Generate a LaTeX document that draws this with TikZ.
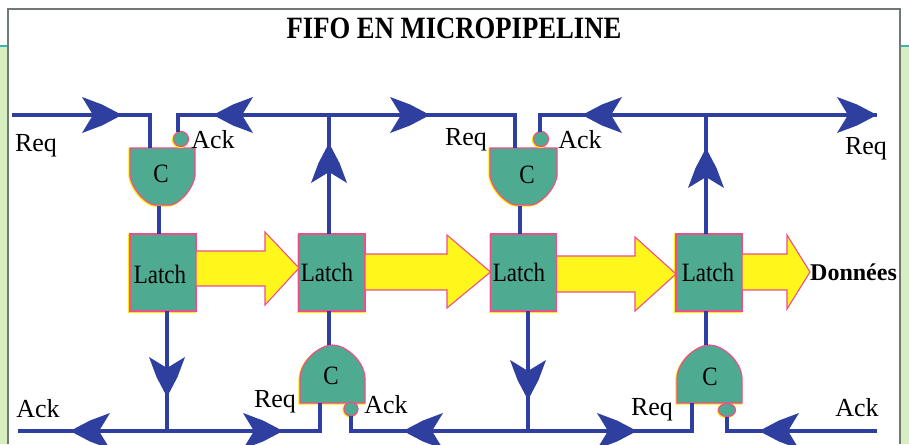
\documentclass[tikz,border=0pt]{standalone}
\usepackage{fontspec}
\usepackage{graphicx}
\usetikzlibrary{shapes.geometric}
\setmainfont{Liberation Serif}
\definecolor{wireblue}{HTML}{2F3FA0}
\definecolor{teal2}{HTML}{4FAA92}
\definecolor{pinkedge}{HTML}{EE4F8C}
\definecolor{yellowedge}{HTML}{F6F000}
\definecolor{busyellow}{HTML}{FFF71C}
\definecolor{pagegreen}{HTML}{D6EEC0}
\definecolor{framegray}{HTML}{6E7A72}
\definecolor{tealline}{HTML}{35B5B5}
\newcommand\talltext[1]{\scalebox{1}[1.15]{#1}}
\tikzset{
  x=1pt,y=-1pt,
  wire/.style={draw=wireblue,line width=3.6pt,line join=miter},
  barbshape/.style={fill=wireblue},
  cell/.style={fill=teal2,draw=pinkedge,line width=1.2pt,
     preaction={draw=yellowedge,line width=1.6pt,transform canvas={shift={(-0.8pt,-0.8pt)}}}},
  bus/.style={fill=busyellow,draw=pinkedge,line width=1.1pt,line join=miter},
  latchbox/.style={cell,minimum width=66pt,minimum height=77pt,inner sep=0pt,outer sep=0pt},
  gatebox/.style={minimum width=66pt,minimum height=58pt,inner sep=0pt,outer sep=0pt},
  lab/.style={font=\fontsize{26}{26}\selectfont,inner sep=0pt},
  gatelab/.style={font=\fontsize{23}{23}\selectfont,inner sep=0pt},
  latchlab/.style={font=\fontsize{23}{23}\selectfont,inner sep=0pt},
}
\newcommand\barb[3]{\fill[barbshape,shift={(#1,#2)},rotate=#3] (0,0)--(-20,-10.5)--(-40,-18)--(-29,0)--(-40,18)--(-20,10.5)--cycle;}
\newcommand\busarrow[8]{\path[bus] (#1.east |- 0,#3) -- (#5,#3) -- (#5,#6) -- (#2 |- 0,#8) -- (#5,#7) -- (#5,#4) -- (#1.east |- 0,#4) -- cycle;}
\begin{document}
\begin{tikzpicture}
\clip (0,0) rectangle (909,444);
\fill[white] (0,0) rectangle (909,444);
\fill[pagegreen] (0,46) rectangle (909,444);
\draw[tealline,line width=1.4pt] (0,46) -- (909,46);
\fill[white] (8,9) rectangle (900,444);
\draw[framegray,line width=1.2pt] (8,444) -- (8,9) -- (900,9) -- (900,444);
\node[font=\bfseries\fontsize{31}{31}\selectfont,inner sep=0pt] (title) at (454,28) {\scalebox{.86}[1]{FIFO EN MICROPIPELINE}};

% wires: named ends
\coordinate (reqin) at (12,115);
\coordinate (tj1) at (329,115);
\coordinate (tj2) at (706,115);
\coordinate (reqout) at (877,115);
\coordinate (ackin) at (18,431);
\coordinate (bj1) at (167,431);
\coordinate (bj2) at (528,431);
\coordinate (ackend) at (877,431);

% latches
\node[latchbox] (L1) at (163,272.5) {};
\node[latchbox] (L2) at (332,272.5) {};
\node[latchbox] (L3) at (523.5,272.5) {};
\node[latchbox] (L4) at (709,272.5) {};

% gate shapes
\path[cell] (130,148) -- (195,148) -- (195,176) .. controls (192,192) and (177,205) .. (170,205) -- (155,205) .. controls (148,205) and (133,192) .. (130,176) -- cycle;
\node[gatebox] (G1) at (162.5,176.5) {};
\path[cell] (490,148) -- (557,148) -- (557,176) .. controls (554,192) and (538,205) .. (531,205) -- (516,205) .. controls (509,205) and (493,192) .. (490,176) -- cycle;
\node[gatebox] (G2) at (523.5,176.5) {};
\path[cell] (300,403) -- (365,403) -- (365,378) .. controls (364,360) and (345,345) .. (332.5,345) .. controls (320,345) and (301,360) .. (300,378) -- cycle;
\node[gatebox] (G3) at (332.5,374) {};
\path[cell] (677,403) -- (742,403) -- (742,378) .. controls (741,360) and (722,345) .. (709.5,345) .. controls (697,345) and (678,360) .. (677,378) -- cycle;
\node[gatebox] (G4) at (709.5,374) {};

% inversion bubbles
\node[cell,circle,minimum size=15pt,inner sep=0pt,outer sep=0pt] (B1) at (181,139) {};
\node[cell,circle,minimum size=15pt,inner sep=0pt,outer sep=0pt] (B2) at (541,139) {};
\node[cell,circle,minimum size=14pt,inner sep=0pt,outer sep=0pt] (B3) at (351,409) {};
\node[cell,ellipse,minimum width=17pt,minimum height=13pt,inner sep=0pt,outer sep=0pt] (B4) at (727,410) {};

% wires
\draw[wire] (reqin) -- (150,115) -- (G1.north -| 150,0);
\draw[wire] (B1.north -| 178,0) -- (178,115) -- (tj1) -- (515,115) -- (G2.north -| 515,0);
\draw[wire] (B2.north -| 540,0) -- (540,115) -- (reqout);
\draw[wire] (L1.north -| 159,0) -- (G1.south -| 159,0);
\draw[wire] (L3.north -| 520,0) -- (G2.south -| 520,0);
\draw[wire] (L2.north -| 329,0) -- (tj1);
\draw[wire] (L4.north -| 706,0) -- (tj2);
\draw[wire] (L1.south -| bj1) -- (bj1);
\draw[wire] (L3.south -| bj2) -- (bj2);
\draw[wire] (L2.south -| 329,0) -- (G3.north -| 329,0);
\draw[wire] (L4.south -| 706,0) -- (G4.north -| 706,0);
\draw[wire] (ackin) -- (320,431) -- (G3.south -| 320,0);
\draw[wire] (B3.south -| 351,0) -- (351,431) -- (692,431) -- (G4.south -| 692,0);
\draw[wire] (B4.south -| 727,0) -- (727,431) -- (ackend);

% barbs
\barb{122}{115}{0}
\barb{213}{115}{180}
\barb{430}{115}{0}
\barb{582}{115}{180}
\barb{877}{115}{0}
\barb{329}{143}{90}
\barb{706}{148}{90}
\barb{167}{397}{-90}
\barb{528}{400}{-90}
\barb{70}{431}{180}
\barb{283}{431}{0}
\barb{403}{431}{180}
\barb{637}{431}{0}
\barb{759}{431}{180}

% text
\node[font=\bfseries\fontsize{24}{24}\selectfont,inner sep=0pt,anchor=west] (don) at (810,272) {Données};
\busarrow{L1}{L2.west}{251}{286}{265}{232}{305}{268}
\busarrow{L2}{L3.west}{254}{290}{447}{235}{308}{272}
\busarrow{L3}{L4.west}{256}{292}{635}{237}{311}{274}
\busarrow{L4}{don.west}{254}{290}{787}{235}{309}{272}

\node[latchlab] at (160,274) {\talltext{Latch}};
\node[latchlab] at (327,272) {\talltext{Latch}};
\node[latchlab] at (519,272) {\talltext{Latch}};
\node[latchlab] at (708,272) {\talltext{Latch}};
\node[gatelab] at (161,174) {\talltext{C}};
\node[gatelab] at (527,175) {\talltext{C}};
\node[gatelab] at (331,376) {\talltext{C}};
\node[gatelab] at (710,377) {\talltext{C}};

\node[lab] at (36,146) {Req};
\node[lab] at (213,140) {Ack};
\node[lab] at (466,140) {Req};
\node[lab] at (580,140) {Ack};
\node[lab] at (866,149) {Req};
\node[lab] at (38,409) {Ack};
\node[lab] at (275,402) {Req};
\node[lab] at (386,405) {Ack};
\node[lab] at (652,410) {Req};
\node[lab] at (857,408) {Ack};
\end{tikzpicture}
\end{document}
